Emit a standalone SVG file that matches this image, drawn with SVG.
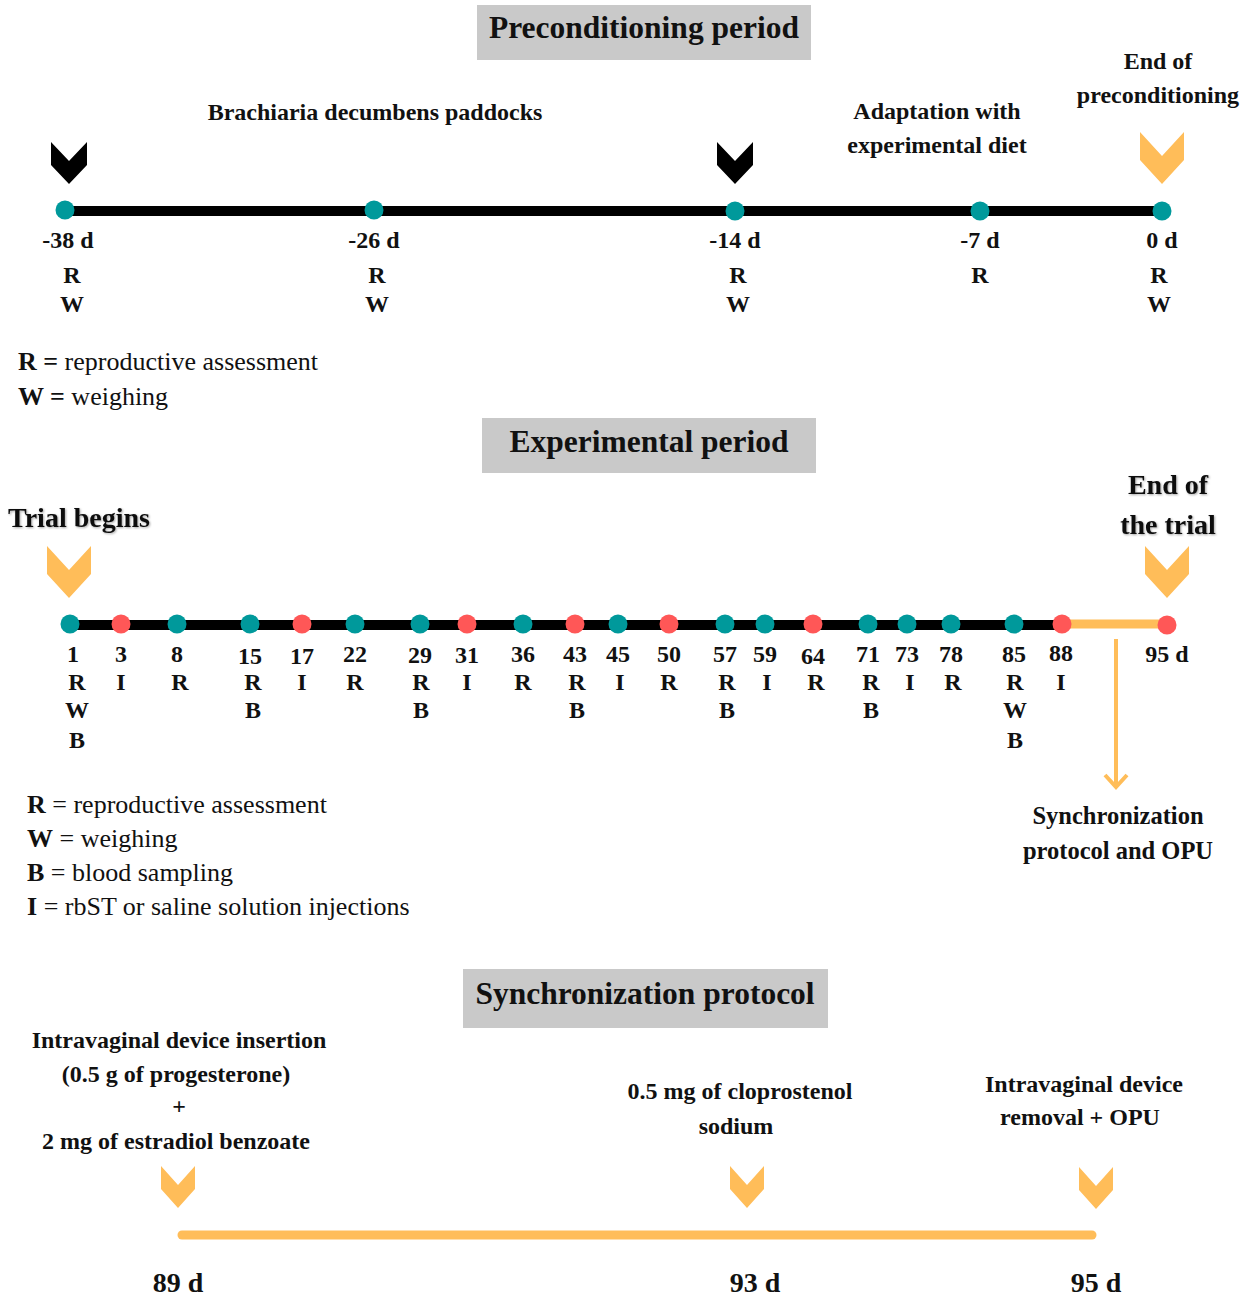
<svg xmlns="http://www.w3.org/2000/svg" width="1248" height="1299" viewBox="0 0 1248 1299">
<defs>
<style>
text{font-family:"Liberation Serif","Times New Roman",serif;fill:#111;}
.b{font-weight:bold;}
.hdr{font-size:31.5px;font-weight:bold;text-anchor:middle;}
.lbl{font-size:24px;font-weight:bold;text-anchor:middle;}
.lbl2{font-size:24.5px;font-weight:bold;text-anchor:middle;}
.big{font-size:28px;font-weight:bold;text-anchor:middle;}
.leg{font-size:26px;}
.hbox{fill:#c9c9c9;}
.teal{fill:#00999b;}
.red{fill:#ff5757;}
.orange{fill:#ffbd59;}
</style>
<path id="chevB" d="M-18,0 L0,19 L18,0 L18,23 L0,42 L-18,23 Z"/>
<path id="chevL" d="M-22,0 L0,24 L22,0 L22,28 L0,52 L-22,28 Z"/>
<path id="chevS" d="M-17,0 L0,19 L17,0 L17,23 L0,42 L-17,23 Z"/>
<filter id="sh" x="-10%" y="-20%" width="120%" height="140%">
<feDropShadow dx="1" dy="1" stdDeviation="1" flood-color="#000" flood-opacity="0.35"/>
</filter>
</defs>
<rect width="1248" height="1299" fill="#fff"/>

<!-- Preconditioning period -->
<g id="hdr-precond">
<rect class="hbox" x="477" y="5" width="334" height="55"/>
<text class="hdr" x="644" y="38">Preconditioning period</text>
</g>
<g id="note-brachiaria"><text class="lbl" x="375" y="120">Brachiaria decumbens paddocks</text></g>
<g id="note-adapt"><text class="lbl" x="937" y="119">Adaptation with</text><text class="lbl" x="937" y="153">experimental diet</text></g>
<g id="note-endpre"><text class="lbl" x="1158" y="69">End of</text><text class="lbl" x="1158" y="103">preconditioning</text></g>

<g id="markers-top">
<use href="#chevB" x="69" y="142"/>
<use href="#chevB" x="735" y="142"/>
<use href="#chevL" class="orange" x="1162" y="132"/>
</g>

<g id="connectors">
<line x1="65" y1="211" x2="1162" y2="211" stroke="#000" stroke-width="10"/>
<line x1="70" y1="625" x2="1062" y2="625" stroke="#000" stroke-width="10"/>
<line x1="1062" y1="624" x2="1167" y2="624" stroke="#ffbd59" stroke-width="9"/>
<line x1="1116" y1="639" x2="1116" y2="786" stroke="#ffbd59" stroke-width="4"/>
<polyline points="1105,775 1116,787 1127,775" fill="none" stroke="#ffbd59" stroke-width="4"/>
<line x1="182" y1="1235" x2="1092" y2="1235" stroke="#ffbd59" stroke-width="9" stroke-linecap="round"/>
</g>

<g id="top-points">
<circle class="teal" cx="65" cy="210" r="9.5"/>
<circle class="teal" cx="374" cy="210" r="9.5"/>
<circle class="teal" cx="735" cy="211" r="9.5"/>
<circle class="teal" cx="980" cy="211" r="9.5"/>
<circle class="teal" cx="1162" cy="211" r="9.5"/>
</g>
<g id="top-labels">
<text class="lbl" x="68" y="248">-38 d</text><text class="lbl" x="72" y="283">R</text><text class="lbl" x="72" y="312">W</text>
<text class="lbl" x="374" y="248">-26 d</text><text class="lbl" x="377" y="283">R</text><text class="lbl" x="377" y="312">W</text>
<text class="lbl" x="735" y="248">-14 d</text><text class="lbl" x="738" y="283">R</text><text class="lbl" x="738" y="312">W</text>
<text class="lbl" x="980" y="248">-7 d</text><text class="lbl" x="980" y="283">R</text>
<text class="lbl" x="1162" y="248">0 d</text><text class="lbl" x="1159" y="283">R</text><text class="lbl" x="1159" y="312">W</text>
</g>
<g id="legend-top">
<text class="leg" x="18" y="370"><tspan class="b">R =</tspan> reproductive assessment</text>
<text class="leg" x="18" y="405"><tspan class="b">W =</tspan> weighing</text>
</g>

<!-- Experimental period -->
<g id="hdr-exp">
<rect class="hbox" x="482" y="418" width="334" height="55"/>
<text class="hdr" x="649" y="452">Experimental period</text>
</g>
<g id="note-trial-begins"><text class="big" x="79" y="527" filter="url(#sh)">Trial begins</text></g>
<g id="note-end-trial"><text class="big" x="1168" y="494" filter="url(#sh)">End of</text><text class="big" x="1168" y="534" filter="url(#sh)">the trial</text></g>
<g id="markers-exp">
<use href="#chevL" class="orange" x="69" y="546"/>
<use href="#chevL" class="orange" x="1167" y="546"/>
</g>
<g id="exp-points">
<circle class="teal" cx="70" cy="624" r="9.5"/>
<circle class="red" cx="121" cy="624" r="9.5"/>
<circle class="teal" cx="177" cy="624" r="9.5"/>
<circle class="teal" cx="250" cy="624" r="9.5"/>
<circle class="red" cx="302" cy="624" r="9.5"/>
<circle class="teal" cx="355" cy="624" r="9.5"/>
<circle class="teal" cx="420" cy="624" r="9.5"/>
<circle class="red" cx="467" cy="624" r="9.5"/>
<circle class="teal" cx="523" cy="624" r="9.5"/>
<circle class="red" cx="575" cy="624" r="9.5"/>
<circle class="teal" cx="618" cy="624" r="9.5"/>
<circle class="red" cx="669" cy="624" r="9.5"/>
<circle class="teal" cx="725" cy="624" r="9.5"/>
<circle class="teal" cx="765" cy="624" r="9.5"/>
<circle class="red" cx="813" cy="624" r="9.5"/>
<circle class="teal" cx="868" cy="624" r="9.5"/>
<circle class="teal" cx="907" cy="624" r="9.5"/>
<circle class="teal" cx="951" cy="624" r="9.5"/>
<circle class="teal" cx="1014" cy="624" r="9.5"/>
<circle class="red" cx="1062" cy="624" r="9.5"/>
<circle class="red" cx="1167" cy="625" r="9.5"/>
</g>
<g id="exp-labels">
<text class="lbl" x="73" y="662">1</text><text class="lbl" x="77" y="690">R</text><text class="lbl" x="77" y="718">W</text><text class="lbl" x="77" y="748">B</text>
<text class="lbl" x="121" y="662">3</text><text class="lbl" x="121" y="690">I</text>
<text class="lbl" x="177" y="662">8</text><text class="lbl" x="180" y="690">R</text>
<text class="lbl" x="250" y="664">15</text><text class="lbl" x="253" y="690">R</text><text class="lbl" x="253" y="718">B</text>
<text class="lbl" x="302" y="664">17</text><text class="lbl" x="302" y="690">I</text>
<text class="lbl" x="355" y="662">22</text><text class="lbl" x="355" y="690">R</text>
<text class="lbl" x="420" y="663">29</text><text class="lbl" x="421" y="690">R</text><text class="lbl" x="421" y="718">B</text>
<text class="lbl" x="467" y="663">31</text><text class="lbl" x="467" y="690">I</text>
<text class="lbl" x="523" y="662">36</text><text class="lbl" x="523" y="690">R</text>
<text class="lbl" x="575" y="662">43</text><text class="lbl" x="577" y="690">R</text><text class="lbl" x="577" y="718">B</text>
<text class="lbl" x="618" y="662">45</text><text class="lbl" x="620" y="690">I</text>
<text class="lbl" x="669" y="662">50</text><text class="lbl" x="669" y="690">R</text>
<text class="lbl" x="725" y="662">57</text><text class="lbl" x="727" y="690">R</text><text class="lbl" x="727" y="718">B</text>
<text class="lbl" x="765" y="662">59</text><text class="lbl" x="767" y="690">I</text>
<text class="lbl" x="813" y="664">64</text><text class="lbl" x="816" y="690">R</text>
<text class="lbl" x="868" y="662">71</text><text class="lbl" x="871" y="690">R</text><text class="lbl" x="871" y="718">B</text>
<text class="lbl" x="907" y="662">73</text><text class="lbl" x="910" y="690">I</text>
<text class="lbl" x="951" y="662">78</text><text class="lbl" x="953" y="690">R</text>
<text class="lbl" x="1014" y="662">85</text><text class="lbl" x="1015" y="690">R</text><text class="lbl" x="1015" y="718">W</text><text class="lbl" x="1015" y="748">B</text>
<text class="lbl" x="1061" y="661">88</text><text class="lbl" x="1061" y="690">I</text>
<text class="lbl" x="1167" y="662">95 d</text>
</g>
<g id="note-sync"><text class="lbl2" x="1118" y="824">Synchronization</text><text class="lbl2" x="1118" y="859">protocol and OPU</text></g>
<g id="legend-exp">
<text class="leg" x="27" y="813"><tspan class="b">R</tspan> = reproductive assessment</text>
<text class="leg" x="27" y="847"><tspan class="b">W</tspan> = weighing</text>
<text class="leg" x="27" y="881"><tspan class="b">B</tspan> = blood sampling</text>
<text class="leg" x="27" y="915"><tspan class="b">I</tspan> = rbST or saline solution injections</text>
</g>

<!-- Synchronization protocol -->
<g id="hdr-sync">
<rect class="hbox" x="463" y="969" width="365" height="59"/>
<text class="hdr" x="645" y="1004">Synchronization protocol</text>
</g>
<g id="note-insert">
<text class="lbl" x="179" y="1048">Intravaginal device insertion</text>
<text class="lbl" x="176" y="1082">(0.5 g of progesterone)</text>
<text class="lbl" x="179" y="1114">+</text>
<text class="lbl" x="176" y="1149">2 mg of estradiol benzoate</text>
</g>
<g id="note-clop">
<text class="lbl" x="740" y="1099">0.5 mg of cloprostenol</text>
<text class="lbl" x="736" y="1134">sodium</text>
</g>
<g id="note-removal">
<text class="lbl" x="1084" y="1092">Intravaginal device</text>
<text class="lbl" x="1080" y="1125">removal + OPU</text>
</g>
<g id="markers-sync">
<use href="#chevS" class="orange" x="178" y="1166"/>
<use href="#chevS" class="orange" x="747" y="1166"/>
<use href="#chevS" class="orange" x="1096" y="1167"/>
</g>
<g id="sync-days">
<text class="big" x="178" y="1292">89 d</text>
<text class="big" x="755" y="1292">93 d</text>
<text class="big" x="1096" y="1292">95 d</text>
</g>
</svg>
